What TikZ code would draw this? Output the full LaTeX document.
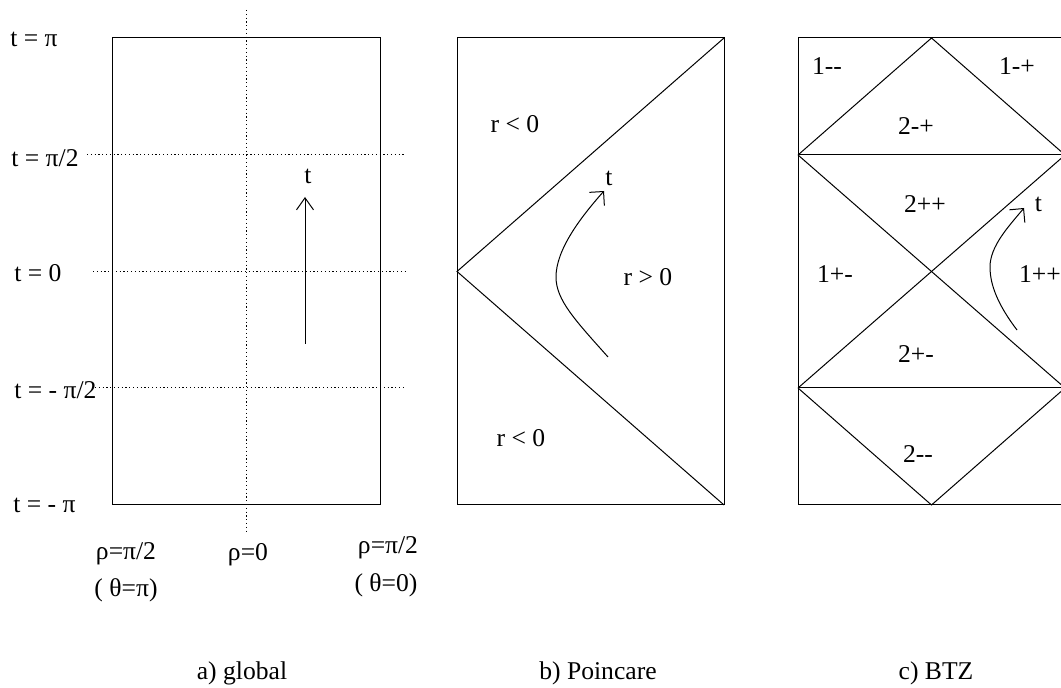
\documentclass[tikz,border=0pt]{standalone}
\usepackage{fontspec}
\newfontfamily\figfont{Liberation Serif}
\usetikzlibrary{arrows.meta}
\begin{document}
\begin{tikzpicture}[x=0.5pt,y=-0.5pt,
  frame/.style={line width=0.5pt},
  edge/.style={line width=0.5pt},
  guide/.style={line width=0.5pt, dash pattern=on 0.6pt off 1.3pt},
  lbl/.style={anchor=base, inner sep=0pt, font=\figfont\fontsize{12.8}{15}\selectfont},
  flowup/.style={line width=0.5pt, -{Straight Barb[length=6pt,width=8.5pt,line width=0.5pt]}},
  flowcurve/.style={line width=0.5pt, -{Straight Barb[length=5pt,width=10pt,line width=0.5pt]}}
]
\clip (0,0) rectangle (1061,688);

% ---------- a) global ----------
\draw[frame] (112,38) rectangle (380,505);
\coordinate (vtop) at (246,10);
\coordinate (vbot) at (246,531);
\draw[guide] (vtop) -- (vbot);
\coordinate (h1a) at (87,155);  \coordinate (h1b) at (405,155);
\coordinate (h2a) at (93,272);  \coordinate (h2b) at (405,272);
\coordinate (h3a) at (95,388);  \coordinate (h3b) at (405,388);
\draw[guide] (h1a) -- (h1b);
\draw[guide] (h2a) -- (h2b);
\draw[guide] (h3a) -- (h3b);
\coordinate (gs) at (305,344);
\coordinate (ge) at (305,197);
\draw[flowup] (gs) -- (ge);
\node[lbl] (gt) at (308,184) {t};

\node[lbl, anchor=base west] (tpi)  at (10,47)  {t = π};
\node[lbl, anchor=base west] (tpi2) at (11,167) {t = π/2};
\node[lbl, anchor=base west] (t0)   at (14,282) {t = 0};
\node[lbl, anchor=base west] (tmpi2) at (14,399) {t = - π/2};
\node[lbl, anchor=base west] (tmpi) at (13,513) {t = - π};

\node[lbl] (rl)  at (126,560) {ρ=π/2};
\node[lbl] (thl) at (126,597) {( θ=π)};
\node[lbl] (r0)  at (248,561) {ρ=0};
\node[lbl] (rr)  at (388,554) {ρ=π/2};
\node[lbl] (thr) at (386,592) {( θ=0)};

\node[lbl] (capa) at (242,680) {a) global};

% ---------- b) Poincare ----------
\draw[frame] (457,38) rectangle (724,505);
\coordinate (ptr) at (724,38);
\coordinate (pml) at (457,271.5);
\coordinate (pbr) at (724,505);
\draw[edge] (ptr) -- (pml) -- (pbr);
\coordinate (ps) at (608,357);
\coordinate (pm) at (556,277);
\coordinate (pe) at (604,191);
\draw[flowcurve] (ps) .. controls (575,320) and (556,300) .. (pm)
                      .. controls (556,250) and (580,218) .. (pe);
\node[lbl] (pt) at (609,186) {t};
\node[lbl] (pr1) at (515,133) {r < 0};
\node[lbl] (pr2) at (648,286) {r > 0};
\node[lbl] (pr3) at (521,447) {r < 0};

\node[lbl] (capb) at (598,680) {b) Poincare};

% ---------- c) BTZ ----------
\draw[frame] (798,38) rectangle (1065,505);
\coordinate (bl1) at (798,155);  \coordinate (br1) at (1065,155);
\coordinate (bl2) at (798,388);  \coordinate (br2) at (1065,388);
\coordinate (btop) at (931.5,38);
\coordinate (bbot) at (931.5,505);
\draw[edge] (bl1) -- (br1);
\draw[edge] (bl2) -- (br2);
\draw[edge] (bl1) -- (btop) -- (br1);
\draw[edge] (bl1) -- (br2);
\draw[edge] (bl2) -- (br1);
\draw[edge] (bl2) -- (bbot) -- (br2);
\coordinate (bs) at (1017,330);
\coordinate (bm) at (990,267);
\coordinate (be) at (1024,208);
\draw[flowcurve] (bs) .. controls (998,305) and (990,285) .. (bm)
                      .. controls (990,246) and (1009,226) .. (be);
\node[lbl] (bt) at (1038.5,212) {t};
\node[lbl] (n1mm) at (827,75)  {1--};
\node[lbl] (n1mp) at (1017,75) {1-+};
\node[lbl] (n2mp) at (916,135) {2-+};
\node[lbl] (n2pp) at (925,213) {2++};
\node[lbl] (n1pm) at (835,283) {1+-};
\node[lbl] (n1pp) at (1040,283) {1++};
\node[lbl] (n2pm) at (916,363) {2+-};
\node[lbl] (n2mm) at (918,463) {2--};

\node[lbl] (capc) at (936,680) {c) BTZ};
\end{tikzpicture}
\end{document}
